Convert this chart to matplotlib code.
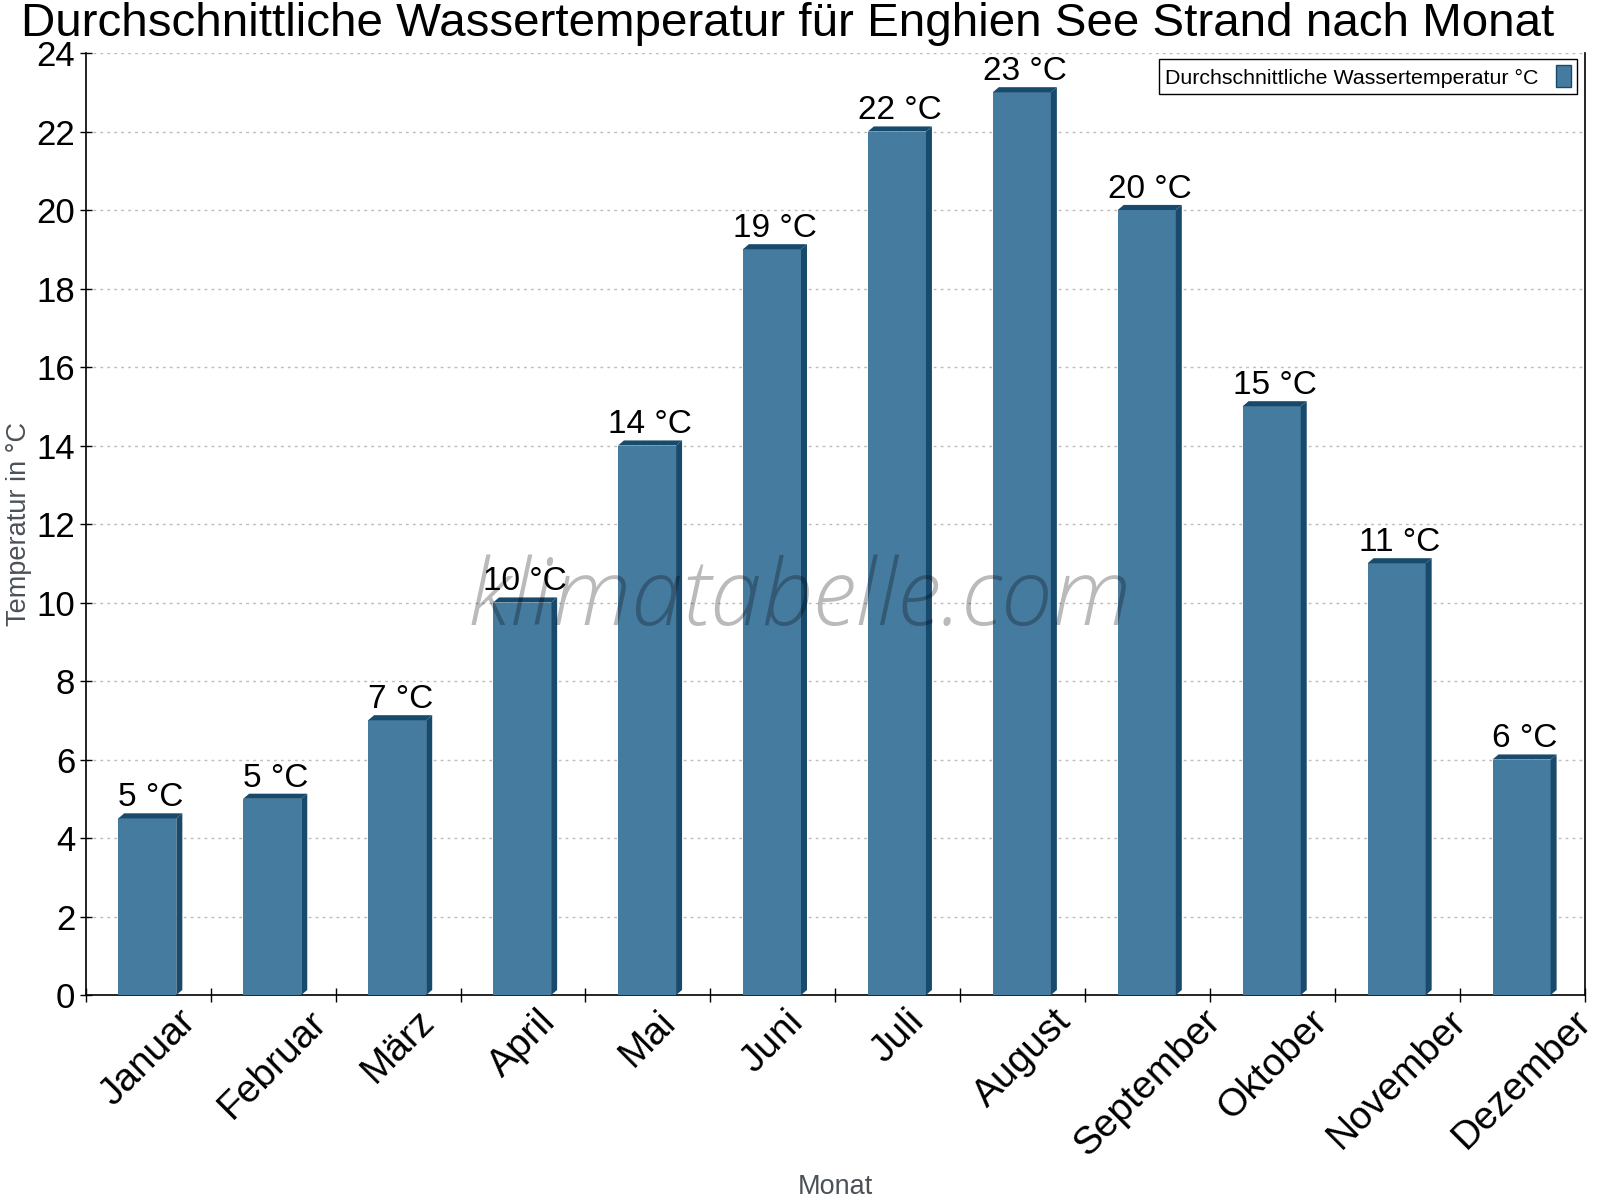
import matplotlib
matplotlib.use('Agg')
import matplotlib.pyplot as plt
from matplotlib.patches import Patch
import numpy as np

plt.rcParams['font.family'] = ['Liberation Sans', 'DejaVu Sans']

# data
months = ['Januar', 'Februar', 'März', 'April', 'Mai', 'Juni', 'Juli',
          'August', 'September', 'Oktober', 'November', 'Dezember']
water_temp = [4.5, 5, 7, 10, 14, 19, 22, 23, 20, 15, 11, 6]
bar_labels = ['5 °C', '5 °C', '7 °C', '10 °C', '14 °C', '19 °C', '22 °C',
              '23 °C', '20 °C', '15 °C', '11 °C', '6 °C']

title = 'Durchschnittliche Wassertemperatur für Enghien See Strand nach Monat'
legend_label = 'Durchschnittliche Wassertemperatur °C'

front_color = '#467ba0'
dark_color = '#184a6b'
label_grey = '#4b5157'

fig = plt.figure(figsize=(16, 12), dpi=100)
ax = fig.add_axes([0.0536, 0.1708, 0.937, 0.785])

x = np.arange(len(months))
width = 0.465
shift = -0.0075
dx = 0.048
dy = 0.13

# front faces
ax.bar(x + shift, water_temp, width=width, color=front_color, zorder=3)

# top and side faces for the 3D look
for xi, v in zip(x, water_temp):
    x0 = xi + shift - width / 2
    x1 = xi + shift + width / 2
    ax.fill([x0, x0 + dx, x1 + dx, x1], [v, v + dy, v + dy, v],
            color=dark_color, zorder=3, lw=0)
    ax.fill([x1, x1 + dx, x1 + dx, x1], [0, dy, v + dy, v],
            color=dark_color, zorder=3, lw=0)

for xi, v, lab in zip(x, water_temp, bar_labels):
    ax.annotate(lab, (xi + shift + dx / 2, v + dy), xytext=(0, 0),
                textcoords='offset points', ha='center', va='bottom',
                fontsize=24, zorder=5)

ax.set_xlim(-0.5, len(months) - 0.5)
ax.set_ylim(0, 24)
ax.set_yticks(np.arange(0, 25, 2))
ax.tick_params(axis='y', labelsize=25, direction='inout', length=8, width=1)
ax.set_xticks(x)
ax.set_xticklabels(months, rotation=45, ha='center', fontsize=28)
ax.tick_params(axis='x', which='major', length=0, pad=6)
ax.set_xticks(np.arange(-0.5, len(months), 1), minor=True)
ax.tick_params(axis='x', which='minor', direction='inout', length=10, width=1)

ax.grid(axis='y', color='#bcbcbc', linestyle=(0, (2, 3)), linewidth=1, zorder=0)
ax.spines['top'].set_visible(False)
for s in ['left', 'bottom', 'right']:
    ax.spines[s].set_linewidth(1.2)

ax.set_ylabel('Temperatur in °C', fontsize=19.5, color=label_grey)
ax.yaxis.set_label_coords(-0.036, 0.5)
ax.set_xlabel('Monat', fontsize=19.5, color=label_grey)
ax.xaxis.set_label_coords(0.5, -0.19)

handle = Patch(facecolor=front_color, edgecolor=dark_color, linewidth=1)
leg = ax.legend([handle], [legend_label], loc='upper right',
                bbox_to_anchor=(1.002, 1.005), fontsize=15.4, markerfirst=False,
                fancybox=False, edgecolor='black', framealpha=1,
                handlelength=0.7, handleheight=1.2, borderpad=0.3,
                handletextpad=0.8)
leg.get_frame().set_linewidth(1)
leg.set_zorder(6)

fig.text(0.4925, 0.998, title, ha='center', va='top', fontsize=34.2)

# watermark
fig.text(0.5, 0.499, 'klimatabelle.com', ha='center', va='center',
         fontsize=66.5, family=['Open Sans', 'DejaVu Sans'], fontweight='light',
         style='italic', color='black', alpha=0.27, zorder=10)

fig.savefig('out.png', dpi=100)
